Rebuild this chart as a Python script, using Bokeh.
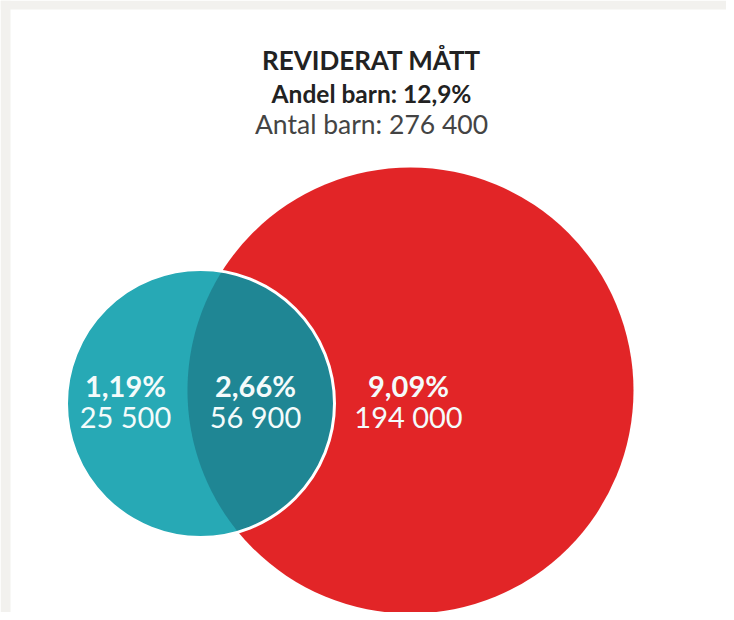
import numpy as np
from bokeh.plotting import figure
from bokeh.models import Range1d, ColumnDataSource
from bokeh.core.properties import value
from bokeh.embed import file_html
from bokeh.resources import INLINE

# ---------------- data ----------------
title = "REVIDERAT MÅTT"
regions = ["Endast blå", "Båda", "Endast röd"]
shares = [1.19, 2.66, 9.09]          # andel barn, %
counts = [25500, 56900, 194000]      # antal barn
total_share = 12.9
total_count = 276400


def fmt_pct(v, d=2):
    return f"{v:.{d}f}".replace(".", ",") + "%"


def fmt_int(n):
    return f"{n:,}".replace(",", " ")


# ---------------- layout (pixel space) ----------------
W, H = 726, 612
teal_c, teal_r = (200.0, 403.0), 134.0
red_c, red_r = (410.0, 390.0), 223.0
label_x = [125, 255, 408]
pct_y, cnt_y = 385, 416
text_x = 371

RED = "#e22527"
TEAL = "#27a9b5"
TEAL_DARK = "#1f8694"
FRAME = "#f2f1ee"

p = figure(width=W, height=H, x_range=Range1d(0, W), y_range=Range1d(H, 0),
           output_backend="svg", toolbar_location=None,
           min_border=0, min_border_left=0, min_border_right=0,
           min_border_top=0, min_border_bottom=0)
p.axis.visible = False
p.grid.visible = False
p.outline_line_color = None
p.background_fill_color = "white"
p.border_fill_color = "white"

# light grey frame strips (top and left edge of the clipping)
p.quad(left=[0, 0], right=[W, 10], top=[0, 0], bottom=[9, H],
       fill_color=FRAME, line_color=None)

# red circle
p.circle(x=[red_c[0]], y=[red_c[1]], radius=red_r, fill_color=RED, line_color=None)
# teal circle
p.circle(x=[teal_c[0]], y=[teal_c[1]], radius=teal_r, fill_color=TEAL, line_color=None)

# lens (intersection) computed from the two circles
(x1, y1), r1 = teal_c, teal_r
(x2, y2), r2 = red_c, red_r
d = np.hypot(x2 - x1, y2 - y1)
a = (d * d - r2 * r2 + r1 * r1) / (2 * d)
h = np.sqrt(r1 * r1 - a * a)
ux, uy = (x2 - x1) / d, (y2 - y1) / d
mx, my = x1 + a * ux, y1 + a * uy
pA = (mx + h * (-uy), my + h * ux)
pB = (mx - h * (-uy), my - h * ux)


def ang(c, pt):
    return np.arctan2(pt[1] - c[1], pt[0] - c[0])


def unwrap_around(t, base):
    return base + (t - base + np.pi) % (2 * np.pi) - np.pi


base1 = np.arctan2(uy, ux)
t1a, t1b = unwrap_around(ang(teal_c, pA), base1), unwrap_around(ang(teal_c, pB), base1)
th1 = np.linspace(t1a, t1b, 120)
arc1x = x1 + r1 * np.cos(th1)
arc1y = y1 + r1 * np.sin(th1)
base2 = np.arctan2(-uy, -ux)
t2b, t2a = unwrap_around(ang(red_c, pB), base2), unwrap_around(ang(red_c, pA), base2)
th2 = np.linspace(t2b, t2a, 120)
arc2x = x2 + r2 * np.cos(th2)
arc2y = y2 + r2 * np.sin(th2)
p.patch(np.concatenate([arc1x, arc2x]), np.concatenate([arc1y, arc2y]),
        fill_color=TEAL_DARK, line_color=None)

# white outline of teal circle
p.circle(x=[teal_c[0]], y=[teal_c[1]], radius=teal_r, fill_color=None,
         line_color="white", line_width=3)

# region labels
src = ColumnDataSource(dict(
    x=label_x,
    pct=[fmt_pct(v) for v in shares],
    cnt=[fmt_int(v) for v in counts],
    py=[pct_y] * 3,
    cy=[cnt_y] * 3,
))
p.text(x="x", y="py", text="pct", source=src, text_font=value("Lato"),
       text_font_size="29px", text_font_style="bold", text_color="#f4fbfb",
       text_align="center", text_baseline="middle")
p.text(x="x", y="cy", text="cnt", source=src, text_font=value("Lato"),
       text_font_size="29px", text_color="#f4fbfb",
       text_align="center", text_baseline="middle")

# headings
p.text(x=[text_x], y=[59], text=[title], text_font=value("Lato"),
       text_font_size="26px", text_font_style="bold", text_color="#222222",
       text_align="center", text_baseline="middle")
p.text(x=[text_x], y=[93], text=["Andel barn: " + fmt_pct(total_share, 1)],
       text_font=value("Lato"), text_font_size="24.5px", text_font_style="bold",
       text_color="#222222", text_align="center", text_baseline="middle")
p.text(x=[text_x], y=[123], text=["Antal barn: " + fmt_int(total_count)],
       text_font=value("Lato"), text_font_size="26.5px", text_color="#444444",
       text_align="center", text_baseline="middle")

open("out.html", "w").write(file_html(p, INLINE))
